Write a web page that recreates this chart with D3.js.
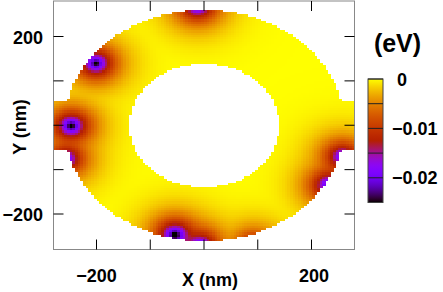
<!DOCTYPE html>
<html>
<head>
<meta charset="utf-8">
<script src="https://cdn.jsdelivr.net/npm/d3@7"></script>
<style>
  body { margin: 0; background: #fff; }
  text { font-family: "Liberation Sans", Arial, sans-serif; font-weight: bold; fill: #000; }
</style>
</head>
<body>
<svg id="chart" width="443" height="292"></svg>
<script>
// impurity sites in the ring (nm) and their depth (eV)
const impX     = [ -12, -201, -247, -256,  -54,   -7,   92,  258,  233];
const impY     = [ 272,  141,    0,  -74, -246, -269, -270,  -70, -134];
const impDepth = [.029, .028, .029, .025, .030, .027, .021, .026, .028];
const impRange = 28;   // screening length, nm

// ring with two leads
const ringInner = 140, ringOuter = 260, leadHalf = 55, gridStep = 5;

const xTicks = [-200, -100, 0, 100, 200];
const yTicks = [-200, -100, 0, 100, 200];
const xLabels = [-200, 200];
const yLabels = [-200, 200];
const cbTicks = [0, -0.005, -0.01, -0.015, -0.02];
const cbLabels = [0, -0.01, -0.02];
const cbRange = [-0.025, 0];

const settings = {
  plot: { left: 53.5, right: 354.5, top: 1, bottom: 249.5 },
  cb: { left: 368, width: 15, top: 79, bottom: 202.5 },
  tickLen: 10
};

const svg = d3.select('#chart');
const P = settings.plot;

const xScale = d3.scaleLinear().domain([-280, 280]).range([P.left, P.right]);
const yScale = d3.scaleLinear().domain([-280, 280]).range([P.bottom, P.top]);

// gnuplot default palette (rgbformulae 7,5,15)
const palette = t => {
  t = Math.max(0, Math.min(1, t));
  const r = Math.sqrt(t), g = t * t * t, b = Math.max(0, Math.sin(2 * Math.PI * t));
  return d3.rgb(r * 255, g * 255, b * 255).formatHex();
};
const colorScale = d3.scaleSequential(palette).domain(cbRange).clamp(true);

// dips combine softly (3-norm) so close neighbours stay apart
function potential(x, y) {
  let s = 0;
  for (let i = 0; i < impX.length; i++) {
    const d = Math.hypot(x - impX[i], y - impY[i]);
    s += Math.pow(impDepth[i] * Math.exp(-d / impRange), 3);
  }
  return -Math.cbrt(s);
}

// grid cells
const cells = [];
for (let x = -280 + gridStep / 2; x < 280; x += gridStep) {
  for (let y = -280 + gridStep / 2; y < 280; y += gridStep) {
    const r = Math.hypot(x, y);
    if (r >= ringInner && (r <= ringOuter || Math.abs(y) <= leadHalf)) {
      cells.push({ x: x, y: y, v: potential(x, y) });
    }
  }
}

const cw = xScale(gridStep) - xScale(0);
const ch = yScale(0) - yScale(gridStep);
svg.append('g')
  .attr('shape-rendering', 'crispEdges')
  .selectAll('rect')
  .data(cells)
  .enter().append('rect')
  .attr('x', d => xScale(d.x - gridStep / 2))
  .attr('y', d => yScale(d.y + gridStep / 2))
  .attr('width', cw + 0.6)
  .attr('height', ch + 0.6)
  .attr('fill', d => colorScale(d.v));

// frame
svg.append('rect')
  .attr('x', P.left).attr('y', P.top)
  .attr('width', P.right - P.left).attr('height', P.bottom - P.top)
  .attr('fill', 'none').attr('stroke', '#888').attr('stroke-width', 1);

// ticks, inward on all four sides
const tl = settings.tickLen;
const tg = svg.append('g').attr('stroke', '#000').attr('stroke-width', 1);
xTicks.forEach(t => {
  tg.append('line').attr('x1', xScale(t)).attr('x2', xScale(t)).attr('y1', P.bottom).attr('y2', P.bottom - tl);
  tg.append('line').attr('x1', xScale(t)).attr('x2', xScale(t)).attr('y1', P.top).attr('y2', P.top + tl);
});
yTicks.forEach(t => {
  tg.append('line').attr('y1', yScale(t)).attr('y2', yScale(t)).attr('x1', P.left).attr('x2', P.left + tl);
  tg.append('line').attr('y1', yScale(t)).attr('y2', yScale(t)).attr('x1', P.right).attr('x2', P.right - tl);
});

const fmt = v => (v < 0 ? '\u2212' : ' ') + Math.abs(v);

svg.selectAll('.xl').data(xLabels).enter().append('text')
  .attr('x', d => xScale(d)).attr('y', 282)
  .attr('text-anchor', 'middle').style('white-space', 'pre')
  .attr('font-size', 18).text(fmt);

svg.selectAll('.yl').data(yLabels).enter().append('text')
  .attr('x', 43).attr('y', d => yScale(d) + 7)
  .attr('text-anchor', 'end').style('white-space', 'pre')
  .attr('font-size', 18).text(fmt);

svg.append('text').attr('x', 210).attr('y', 286)
  .attr('text-anchor', 'middle').attr('font-size', 18).text('X (nm)');
svg.append('text').attr('transform', 'translate(25.5,127) rotate(-90)')
  .attr('text-anchor', 'middle').attr('font-size', 18).text('Y (nm)');

// colour box
const C = settings.cb;
const cbScale = d3.scaleLinear().domain(cbRange).range([C.bottom, C.top]);
const grad = svg.append('defs').append('linearGradient')
  .attr('id', 'cbgrad').attr('x1', 0).attr('x2', 0).attr('y1', 1).attr('y2', 0);
d3.range(0, 1.0001, 0.02).forEach(t => {
  grad.append('stop').attr('offset', t).attr('stop-color', palette(t));
});
svg.append('rect')
  .attr('x', C.left).attr('y', C.top)
  .attr('width', C.width).attr('height', C.bottom - C.top)
  .attr('fill', 'url(#cbgrad)').attr('stroke', '#444').attr('stroke-width', 1);
svg.append('g').selectAll('line').data(cbTicks).enter().append('line')
  .attr('x1', C.left).attr('x2', C.left + C.width)
  .attr('y1', d => cbScale(d)).attr('y2', d => cbScale(d))
  .attr('stroke', '#222').attr('stroke-width', 1);
svg.selectAll('.cl').data(cbLabels).enter().append('text')
  .attr('x', 392).attr('y', d => cbScale(d) + 6.5)
  .style('white-space', 'pre').attr('font-size', 18).text(fmt);
svg.append('text').attr('x', 397.5).attr('y', 52)
  .attr('text-anchor', 'middle').attr('font-size', 25).text('(eV)');
</script>
</body>
</html>
